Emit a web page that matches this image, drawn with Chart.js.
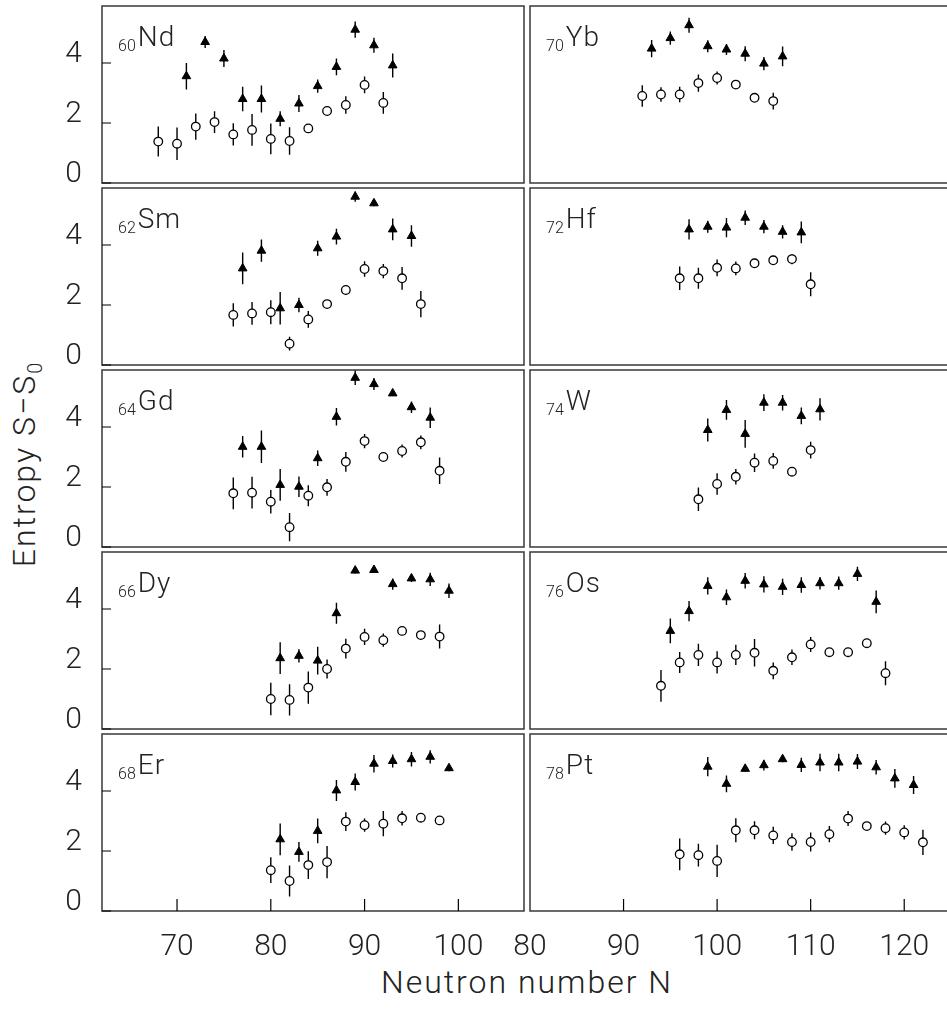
<!DOCTYPE html>
<html>
<head>
<meta charset="utf-8">
<title>Entropy S-S0 vs neutron number</title>
<script src="https://cdn.jsdelivr.net/npm/chart.js@4.4.1/dist/chart.umd.min.js"></script>
<style>
  html, body { margin: 0; padding: 0; background: #fff; }
  #wrap { position: relative; width: 947px; height: 1011px; overflow: hidden; }
  #wrap canvas { position: absolute; }
  .title { position: absolute; font-family: Roboto, sans-serif; font-weight: 300; font-size: 32px; letter-spacing: 2px; color: #222; white-space: nowrap; }
  .title sub { font-size: 0.62em; letter-spacing: 0; }
  #xTitle { left: 527px; top: 982px; transform: translate(-50%, -50%); }
  #yTitle { left: 26px; top: 465px; transform: translate(-50%, -50%) rotate(-90deg); }
</style>
</head>
<body>
<div id="wrap">
  <div class="title" id="xTitle">Neutron number N</div>
  <div class="title" id="yTitle">Entropy S−S<sub>0</sub></div>
</div>
<script>
// [N, S-S0, error]; triangles = odd N, circles = even N
const ndOdd = [[71,3.56,0.44],[73,4.70,0.20],[75,4.15,0.28],[77,2.80,0.41],[79,2.80,0.45],[81,2.14,0.25],[83,2.65,0.28],[85,3.23,0.22],[87,3.87,0.28],[89,5.11,0.27],[91,4.59,0.25],[93,3.92,0.40]];
const ndEven = [[68,1.38,0.50],[70,1.31,0.54],[72,1.88,0.44],[74,2.03,0.36],[76,1.62,0.37],[78,1.77,0.53],[80,1.47,0.51],[82,1.40,0.46],[84,1.82,0.14],[86,2.40,0.10],[88,2.60,0.29],[90,3.27,0.28],[92,2.67,0.36]];
const ybOdd = [[93,4.48,0.29],[95,4.83,0.22],[97,5.26,0.25],[99,4.56,0.20],[101,4.45,0.18],[103,4.31,0.25],[105,3.98,0.22],[107,4.22,0.33]];
const ybEven = [[92,2.90,0.36],[94,2.95,0.24],[96,2.95,0.26],[98,3.33,0.29],[100,3.50,0.22],[102,3.28,0.08],[104,2.84,0.08],[106,2.73,0.28]];
const smOdd = [[77,3.22,0.53],[79,3.81,0.37],[81,1.89,0.54],[83,2.00,0.24],[85,3.89,0.25],[87,4.28,0.26],[89,5.61,0.17],[91,5.39,0.10],[93,4.52,0.36],[95,4.30,0.36]];
const smEven = [[76,1.67,0.39],[78,1.72,0.38],[80,1.76,0.40],[82,0.71,0.23],[84,1.52,0.28],[86,2.03,0.08],[88,2.50,0.17],[90,3.20,0.26],[92,3.13,0.24],[94,2.89,0.38],[96,2.03,0.44]];
const hfOdd = [[97,4.52,0.34],[99,4.61,0.20],[101,4.58,0.32],[103,4.91,0.24],[105,4.61,0.22],[107,4.44,0.22],[109,4.42,0.36]];
const hfEven = [[96,2.89,0.39],[98,2.89,0.35],[100,3.24,0.28],[102,3.22,0.23],[104,3.39,0.08],[106,3.49,0.08],[108,3.53,0.17],[110,2.69,0.40]];
const gdOdd = [[77,3.34,0.36],[79,3.34,0.54],[81,2.07,0.53],[83,2.01,0.34],[85,2.96,0.26],[87,4.34,0.29],[89,5.64,0.24],[91,5.43,0.20],[93,5.12,0.08],[95,4.66,0.19],[97,4.31,0.34]];
const gdEven = [[76,1.79,0.53],[78,1.81,0.53],[80,1.51,0.39],[82,0.66,0.47],[84,1.71,0.35],[86,1.99,0.28],[88,2.84,0.33],[90,3.53,0.24],[92,3.00,0.08],[94,3.20,0.22],[96,3.49,0.23],[98,2.54,0.44]];
const wOdd = [[99,3.90,0.38],[101,4.57,0.33],[103,3.77,0.46],[105,4.81,0.28],[107,4.81,0.26],[109,4.37,0.28],[111,4.59,0.37]];
const wEven = [[98,1.59,0.39],[100,2.10,0.36],[102,2.34,0.26],[104,2.81,0.31],[106,2.87,0.26],[108,2.51,0.08],[110,3.23,0.28]];
const dyOdd = [[81,2.36,0.53],[83,2.44,0.22],[85,2.28,0.46],[87,3.86,0.35],[89,5.28,0.10],[91,5.30,0.10],[93,4.83,0.19],[95,5.02,0.12],[97,4.99,0.22],[99,4.61,0.24]];
const dyEven = [[80,1.00,0.54],[82,0.97,0.52],[84,1.38,0.54],[86,2.00,0.32],[88,2.68,0.33],[90,3.07,0.27],[92,2.96,0.22],[94,3.27,0.10],[96,3.13,0.08],[98,3.08,0.40]];
const osOdd = [[95,3.27,0.41],[97,3.93,0.34],[99,4.77,0.29],[101,4.39,0.26],[103,4.94,0.26],[105,4.82,0.27],[107,4.74,0.27],[109,4.80,0.26],[111,4.86,0.21],[113,4.86,0.22],[115,5.17,0.24],[117,4.24,0.38]];
const osEven = [[94,1.44,0.53],[96,2.22,0.35],[98,2.47,0.37],[100,2.22,0.37],[102,2.47,0.34],[104,2.54,0.46],[106,1.94,0.28],[108,2.39,0.26],[110,2.82,0.25],[112,2.56,0.08],[114,2.56,0.08],[116,2.86,0.08],[118,1.86,0.40]];
const erOdd = [[81,2.39,0.53],[83,1.97,0.33],[85,2.67,0.41],[87,4.02,0.35],[89,4.30,0.28],[91,4.91,0.29],[93,5.00,0.22],[95,5.06,0.24],[97,5.14,0.22],[99,4.76,0.10]];
const erEven = [[80,1.36,0.43],[82,1.00,0.52],[84,1.53,0.46],[86,1.63,0.54],[88,2.98,0.31],[90,2.86,0.22],[92,2.91,0.42],[94,3.09,0.24],[96,3.11,0.08],[98,3.02,0.08]];
const ptOdd = [[99,4.81,0.32],[101,4.24,0.28],[103,4.74,0.10],[105,4.86,0.18],[107,5.06,0.10],[109,4.87,0.24],[111,4.95,0.29],[113,4.95,0.29],[115,4.98,0.25],[117,4.79,0.24],[119,4.42,0.31],[121,4.20,0.30]];
const ptEven = [[96,1.89,0.53],[98,1.86,0.38],[100,1.67,0.54],[102,2.69,0.40],[104,2.69,0.30],[106,2.52,0.29],[108,2.30,0.29],[110,2.30,0.32],[112,2.56,0.27],[114,3.08,0.25],[116,2.83,0.08],[118,2.76,0.22],[120,2.62,0.24],[122,2.29,0.42]];

const leftNuclei = [["60","Nd",ndOdd,ndEven],["62","Sm",smOdd,smEven],["64","Gd",gdOdd,gdEven],["66","Dy",dyOdd,dyEven],["68","Er",erOdd,erEven]];
const rightNuclei = [["70","Yb",ybOdd,ybEven],["72","Hf",hfOdd,hfEven],["74","W",wOdd,wEven],["76","Os",osOdd,osEven],["78","Pt",ptOdd,ptEven]];

const leftRange = [62, 107];
const rightRange = [80, 125];
const yRange = [0, 5.9];
const leftXTicks = [70, 80, 90, 100];
const rightXTicks = [80, 90, 100, 110, 120];
const yTicks = [0, 2, 4];

const rowTops = [6, 188, 370, 552, 734];
const boxH = 177;
const FONT = "Roboto, 'Liberation Sans', sans-serif";

const panelDeco = {
    id: "panelDeco",
    beforeDatasetsDraw(chart, args, opts) {
        const ctx = chart.ctx, xs = chart.scales.x, ys = chart.scales.y;
        const a = chart.chartArea;
        ctx.save();
        // frame
        ctx.strokeStyle = "#444";
        ctx.lineWidth = 1.6;
        ctx.strokeRect(a.left, a.top, a.right - a.left, a.bottom - a.top);
        // inner tick marks
        ctx.strokeStyle = "#000";
        ctx.lineWidth = 1.2;
        ctx.beginPath();
        if (opts.left) {
            yTicks.forEach(v => {
                const py = ys.getPixelForValue(v);
                ctx.moveTo(a.left, py);
                ctx.lineTo(a.left + 9, py);
            });
        }
        if (opts.bottom) {
            opts.xTicks.forEach(v => {
                const px = xs.getPixelForValue(v);
                if (px <= a.left + 1) return;
                ctx.moveTo(px, a.bottom);
                ctx.lineTo(px, a.bottom - 12);
            });
        }
        ctx.stroke();
        // error bars
        ctx.lineWidth = 1.4;
        ctx.beginPath();
        chart.data.datasets.forEach(ds => {
            ds.data.forEach(p => {
                const px = xs.getPixelForValue(p.x);
                ctx.moveTo(px, ys.getPixelForValue(p.y - p.e));
                ctx.lineTo(px, ys.getPixelForValue(p.y + p.e));
            });
        });
        ctx.stroke();
        // nucleus label
        ctx.fillStyle = "#222";
        ctx.textBaseline = "alphabetic";
        ctx.font = "300 16px " + FONT;
        const x0 = a.left + 16;
        ctx.fillText(opts.z, x0, a.top + 45);
        const w = ctx.measureText(opts.z).width;
        ctx.font = "300 28px " + FONT;
        ctx.letterSpacing = "1px";
        ctx.fillText(opts.sym, x0 + w + 2, a.top + 40);
        ctx.restore();
    }
};

function toPoints(rows) {
    return rows.map(r => ({ x: r[0], y: r[1], e: r[2] }));
}

function addPanel(nuc, col, row) {
    const isLeft = col === 0;
    const isBottom = row === rowTops.length - 1;
    const range = isLeft ? leftRange : rightRange;
    const xTicks = isLeft ? leftXTicks : rightXTicks;

    const canvas = document.createElement("canvas");
    const cx = isLeft ? 0 : 490;
    const cw = isLeft ? 534 : 471;
    const cy = rowTops[row] - 45;
    const ch = isBottom ? 45 + boxH + 100 : 45 + boxH + 45;
    canvas.width = cw;
    canvas.height = ch;
    canvas.style.left = cx + "px";
    canvas.style.top = cy + "px";
    canvas.style.width = cw + "px";
    canvas.style.height = ch + "px";
    document.getElementById("wrap").appendChild(canvas);

    const tickFont = { family: FONT, weight: 300, size: 30 };

    new Chart(canvas, {
        type: "scatter",
        data: {
            datasets: [
                {
                    data: toPoints(nuc[2]),
                    pointStyle: "triangle",
                    pointRadius: 5,
                    pointBackgroundColor: "#000",
                    pointBorderColor: "#000",
                    pointBorderWidth: 1,
                    clip: false
                },
                {
                    data: toPoints(nuc[3]),
                    pointStyle: "circle",
                    pointRadius: 4.3,
                    pointBackgroundColor: "#fff",
                    pointBorderColor: "#000",
                    pointBorderWidth: 1.3,
                    clip: false
                }
            ]
        },
        options: {
            responsive: false,
            maintainAspectRatio: false,
            animation: false,
            events: [],
            layout: {
                padding: { left: isLeft ? 0 : 40, right: 10, top: 45, bottom: isBottom ? 0 : 45 }
            },
            plugins: {
                legend: { display: false },
                tooltip: { enabled: false },
                panelDeco: { z: nuc[0], sym: nuc[1], left: isLeft, bottom: isBottom, xTicks: xTicks }
            },
            scales: {
                x: {
                    type: "linear",
                    min: range[0],
                    max: range[1],
                    display: isBottom,
                    grid: { display: false, drawTicks: false },
                    border: { display: false },
                    afterBuildTicks: s => { s.ticks = xTicks.map(v => ({ value: v })); },
                    afterFit: s => { s.height = isBottom ? 100 : 0; },
                    ticks: { autoSkip: false, maxRotation: 0, padding: 18, color: "#222", font: tickFont }
                },
                y: {
                    min: yRange[0],
                    max: yRange[1],
                    display: isLeft,
                    grid: { display: false, drawTicks: false },
                    border: { display: false },
                    afterBuildTicks: s => { s.ticks = yTicks.map(v => ({ value: v })); },
                    afterFit: s => { s.width = isLeft ? 102 : 0; },
                    ticks: { padding: 20, labelOffset: -9, color: "#222", font: tickFont }
                }
            }
        },
        plugins: [panelDeco]
    });
}

leftNuclei.forEach((n, i) => addPanel(n, 0, i));
rightNuclei.forEach((n, i) => addPanel(n, 1, i));
</script>
</body>
</html>
